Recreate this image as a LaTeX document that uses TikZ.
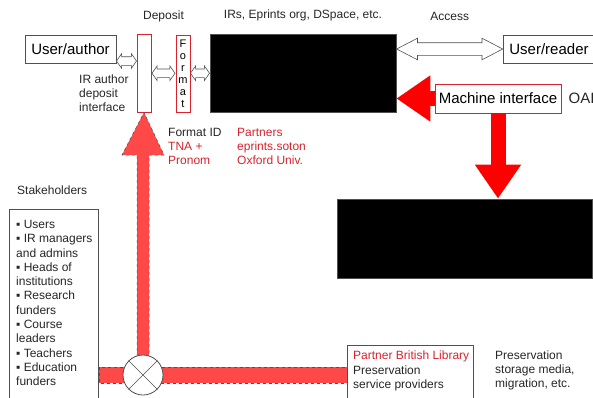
\documentclass[tikz,border=0pt]{standalone}
\usepackage{fontspec}
\setmainfont{Liberation Sans}
\usepackage{tikz}
\usetikzlibrary{shapes, arrows.meta, positioning, calc}
\definecolor{ir-red}{RGB}{215,35,45}
\definecolor{flow-red}{RGB}{255,0,0}
\definecolor{route-red}{RGB}{255,72,72}
\definecolor{edge-gray}{RGB}{80,80,80}

\begin{document}
\begin{tikzpicture}[
    x=1pt, y=-1pt,
    txt/.style={inner sep=0pt, font=\fontsize{12}{13.8}\selectfont, text=black!85},
    box/.style={rectangle, draw=edge-gray, line width=0.8pt, fill=white, inner sep=0pt, font=\fontsize{15}{18}\selectfont},
    redbox/.style={box, draw=ir-red},
    blackbox/.style={rectangle, draw=edge-gray, line width=0.8pt, fill=black},
    hollow/.style={double arrow, draw=edge-gray, fill=white, line width=0.6pt, inner xsep=0pt},
    flow/.style={flow-red, line width=15pt, -{Triangle[length=34pt, width=44pt]}},
    route/.style={fill=route-red, draw=edge-gray, dashed, line width=0.5pt}
]
\useasboundingbox (0,0) rectangle (593,397);

% Deposit / access row
\node[box, minimum width=91pt, minimum height=28pt] (author) at (70.5,49) {User/author};
\node[redbox, minimum width=14pt, minimum height=78pt] (depint) at (144,73) {};
\node[redbox, minimum width=14pt, minimum height=77pt, align=center, font=\fontsize{11}{12}\selectfont] (fmt) at (183,73.5) {F\\o\\r\\m\\a\\t};
\node[blackbox, minimum width=186pt, minimum height=78pt] (repo) at (303,73) {};
\node[box, anchor=west, text width=85pt, inner xsep=6pt, minimum height=28pt, align=left] (reader) at (503,49) {User/reader};
\node[redbox, minimum width=126pt, minimum height=29pt] (mach) at (498,98.5) {Machine interface};
\node[txt, font=\fontsize{15}{18}\selectfont, right=7pt of mach] (oai) {OAI};

% Labels
\node[txt] (deplbl) at ($(depint.north)!0.5!(fmt.north)+(0,-18)$) {Deposit};
\node[txt] (repolbl) at ($(repo.north)+(0,-18)$) {IRs, Eprints org, DSpace, etc.};
\node[txt] (acclbl) at ($(repo.north east)!0.5!(reader.north west)+(0,-18)$) {Access};
\node[txt, align=left, anchor=north west] (intlbl) at (79,75) {IR author\\deposit\\interface};
\node[txt, align=left, anchor=north west] (fmtlbl) at (168,128) {Format ID\\\textcolor{ir-red}{TNA +}\\\textcolor{ir-red}{Pronom}};
\node[txt, align=left, anchor=north west, text=ir-red] (partlbl) at (237,128) {Partners\\eprints.soton\\Oxford Univ.};

% Preservation
\node[blackbox, minimum width=255pt, minimum height=79pt] (store) at (464.5,238.5) {};
\node[txt, align=left, anchor=north west] (storelbl) at (495,351) {Preservation\\storage media,\\migration, etc.};

% Stakeholders
\node[txt, anchor=west] (stakelbl) at (17,190) {Stakeholders};
\node[box, anchor=north west, minimum width=89pt, minimum height=195pt] (stake) at (9,209) {};
\node[txt, align=left, anchor=north west, font=\fontsize{12}{14.3}\selectfont] (stakelist) at (16,220)
    {▪ Users\\▪ IR managers\\and admins\\▪ Heads of\\institutions\\▪ Research\\funders\\▪ Course\\leaders\\▪ Teachers\\▪ Education\\funders};

% Routes
\node[circle, minimum size=40pt, inner sep=0pt] (hub) at (143,375) {};
\node[box, anchor=north west, align=left, minimum width=126pt, minimum height=58pt, inner xsep=6pt, inner ysep=0pt] (partner) at (347,345) {};
\node[txt, align=left, anchor=north west, font=\fontsize{12}{14.3}\selectfont] (partnerlbl) at (353,351)
    {\textcolor{ir-red}{Partner British Library}\\Preservation\\service providers};
\coordinate (headbase) at (143,155);
\draw[route] ($(stake.east |- hub)+(0,-8)$) rectangle ($(partner.west |- hub)+(0,8)$);
\draw[route] ([xshift=-6pt]hub.center) -- ([xshift=-6pt]headbase) -- ([xshift=-21pt]headbase)
    -- (depint.south) -- ([xshift=21pt]headbase) -- ([xshift=6pt]headbase) -- ([xshift=6pt]hub.center) -- cycle;
\draw[edge-gray, line width=0.8pt, fill=white] (hub) circle (20pt);
\draw[edge-gray, line width=0.6pt] (hub.45) -- (hub.225) (hub.135) -- (hub.-45);

% Arrows
\node[hollow, minimum height=20pt, minimum width=14pt, inner ysep=4pt, double arrow head extend=3pt, double arrow tip angle=110] at ($(author.east)!0.5!(depint.west)$) {};
\node[hollow, minimum height=23pt, minimum width=14pt, inner ysep=4pt, double arrow head extend=3pt, double arrow tip angle=110] at ($(depint.east)!0.5!(fmt.west)$) {};
\node[hollow, minimum height=19pt, minimum width=14pt, inner ysep=4pt, double arrow head extend=3pt, double arrow tip angle=110] at ($(fmt.east)!0.5!(repo.west)$) {};
\node[hollow, minimum height=106pt, minimum width=21pt, inner ysep=6pt, double arrow head extend=4.5pt, double arrow tip angle=55] at ($(repo.east |- reader)!0.5!(reader.west)$) {};
\draw[flow] (mach.west) -- (repo.east |- mach.west);
\draw[flow] (mach.south) -- (store.north -| mach.south);

\end{tikzpicture}
\end{document}
